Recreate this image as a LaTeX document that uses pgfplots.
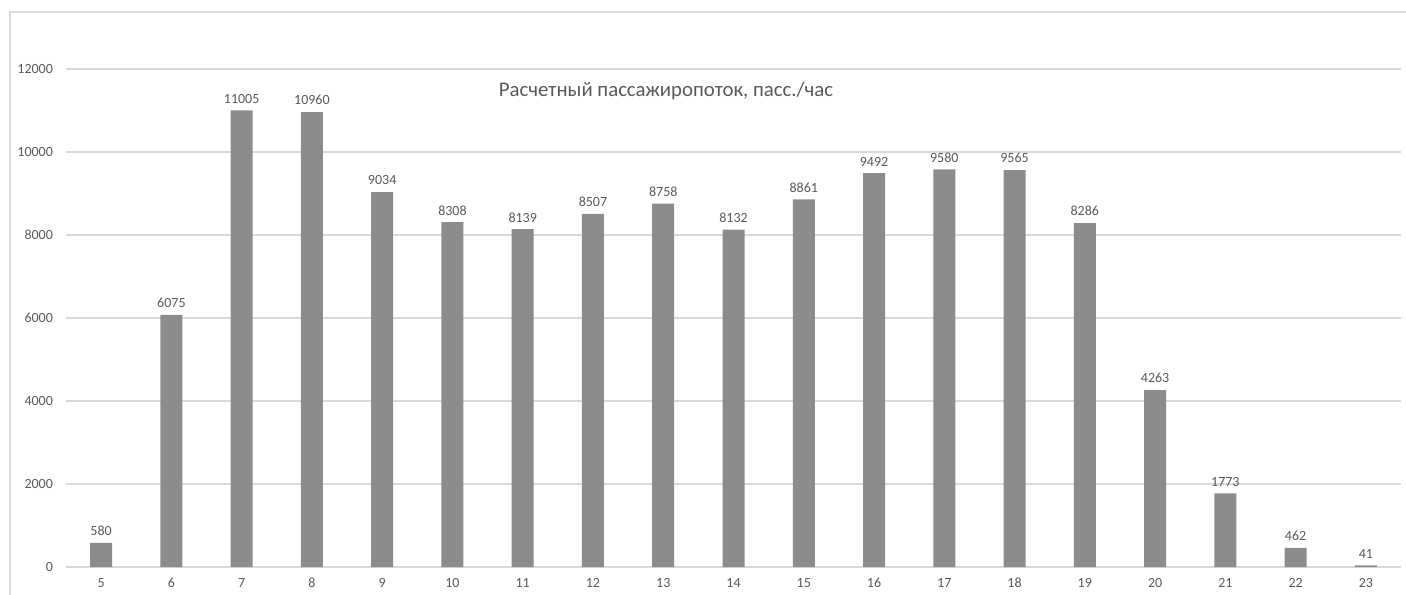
\documentclass[border=0pt]{standalone}
\usepackage{fontspec}
\setmainfont{Carlito}
\usepackage{pgfplots}
\pgfplotsset{compat=1.18}
\definecolor{barc}{RGB}{140,140,140}
\definecolor{txt}{RGB}{89,89,89}
\definecolor{gridc}{RGB}{217,217,217}
\begin{document}
\begin{tikzpicture}
\useasboundingbox (-33pt,-13.5pt) rectangle (670pt,283.5pt);
\draw[gridc, line width=0.7pt] (-28pt,-14pt) -- (-28pt,277.5pt) -- (671pt,277.5pt);
\begin{axis}[
  at={(0pt,0pt)}, anchor=south west,
  width=667.5pt, height=249pt, scale only axis,
  xmin=-0.5, xmax=18.5, ymin=0, ymax=12000,
  ytick={0,2000,...,12000},
  scaled y ticks=false,
  xtick={0,...,18},
  xticklabels={5,6,7,8,9,10,11,12,13,14,15,16,17,18,19,20,21,22,23},
  ymajorgrids, grid style={gridc, line width=0.6pt},
  axis x line*=bottom, axis y line*=left,
  x axis line style={gridc, line width=0.7pt, -},
  y axis line style={draw=none},
  major tick length=0pt,
  /pgf/number format/.cd, 1000 sep={}, assume math mode=true,
  /pgfplots/.cd,
  yticklabel style={font=\fontsize{7}{8}\selectfont, text=txt, xshift=-3pt},
  xticklabel style={font=\fontsize{7}{8}\selectfont, text=txt, yshift=-2pt},
  ybar, bar width=11pt,
  nodes near coords,
  every node near coord/.append style={font=\fontsize{7}{8}\selectfont, text=txt, yshift=0pt},
]
\addplot[fill=barc, draw=none] coordinates {
(0,580) (1,6075) (2,11005) (3,10960) (4,9034) (5,8308) (6,8139) (7,8507) (8,8758) (9,8132)
(10,8861) (11,9492) (12,9580) (13,9565) (14,8286) (15,4263) (16,1773) (17,462) (18,41)
};
\end{axis}
\node[text=txt, font=\fontsize{10.4}{12}\selectfont] at (300pt,238pt) {Расчетный пассажиропоток, пасс./час};
\end{tikzpicture}
\end{document}
